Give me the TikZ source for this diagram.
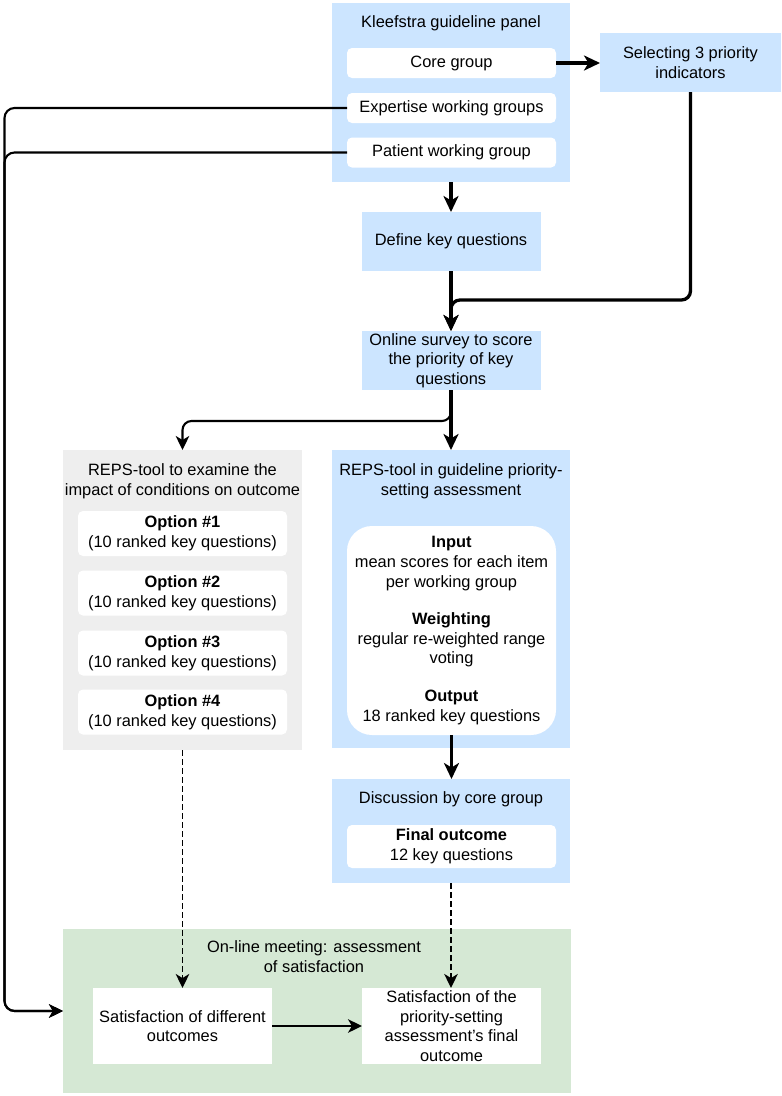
\documentclass[tikz,border=0pt]{standalone}
\usepackage{fontspec}
\setmainfont{Liberation Sans}
\usetikzlibrary{arrows.meta}
\definecolor{bluefill}{HTML}{CCE5FF}
\definecolor{grayfill}{HTML}{EEEEEE}
\definecolor{greenfill}{HTML}{D5E8D4}
\begin{document}
\begin{tikzpicture}[x=1pt,y=-1pt,
  every node/.style={font=\fontsize{16.4}{19.6}\selectfont, inner sep=0pt, outer sep=0pt, align=center},
  bluebox/.style={fill=bluefill, draw=none},
  graybox/.style={fill=grayfill, draw=none},
  greenbox/.style={fill=greenfill, draw=none},
  whitebox/.style={fill=white, draw=none, rounded corners=5pt},
  plainbox/.style={fill=white, draw=none},
  titletext/.style={anchor=north},
  bigtip/.style={-{Stealth[length=16pt,width=15pt,inset=4.5pt]}},
  smalltip/.style={-{Stealth[length=14pt,width=13.5pt,inset=4pt]}},
  thickline/.style={line width=3.3pt, bigtip},
  thinline/.style={line width=2.1pt, smalltip},
  dashline/.style={line width=1.8pt, dash pattern=on 5.5pt off 3.5pt, smalltip},
]
\useasboundingbox (0,0) rectangle (782,1096);
\fill[white] (0,0) rectangle (782,1096);

% Kleefstra panel
\node[bluebox, minimum width=238pt, minimum height=179pt] (panel) at (451,92.5) {};
\node[titletext] (paneltitle) at (451,16) {Kleefstra guideline panel};
\node[whitebox, minimum width=209pt, minimum height=30pt] (core) at (451.5,63) {Core group};
\node[whitebox, minimum width=209pt, minimum height=30pt] (expert) at (451.5,108) {Expertise working groups};
\node[whitebox, minimum width=209pt, minimum height=30pt] (patient) at (451.5,152.5) {Patient working group};

\node[bluebox, minimum width=181pt, minimum height=59pt] (sel) at (690.5,62.5) {Selecting 3 priority\\indicators};

\node[bluebox, minimum width=179pt, minimum height=59pt] (define) at (451,241.5) {Define key questions};
\node[bluebox, minimum width=179pt, minimum height=59pt] (survey) at (451,360.5) {Online survey to score\\the priority of key\\questions};

% gray panel
\node[graybox, minimum width=239pt, minimum height=300pt] (gray) at (182.5,600) {};
\node[titletext] (graytitle) at (182.5,464) {REPS-tool to examine the\\impact of conditions on outcome};
\node[whitebox, minimum width=209pt, minimum height=45pt] (opt1) at (182.5,533.5) {\textbf{Option \#1}\\(10 ranked key questions)};
\node[whitebox, minimum width=209pt, minimum height=45pt] (opt2) at (182.5,593) {\textbf{Option \#2}\\(10 ranked key questions)};
\node[whitebox, minimum width=209pt, minimum height=45pt] (opt3) at (182.5,653) {\textbf{Option \#3}\\(10 ranked key questions)};
\node[whitebox, minimum width=209pt, minimum height=45pt] (opt4) at (182.5,712) {\textbf{Option \#4}\\(10 ranked key questions)};

% REPS blue panel
\node[bluebox, minimum width=238pt, minimum height=298pt] (reps) at (451,599) {};
\node[titletext] (repstitle) at (451,464) {REPS-tool in guideline priority-\\setting assessment};
\node[fill=white, rounded corners=25pt, minimum width=209pt, minimum height=209pt] (repsin) at (451.5,630.5)
  {\textbf{Input}\\mean scores for each item\\per working group\\[18pt]\textbf{Weighting}\\regular re-weighted range\\voting\\[18pt]\textbf{Output}\\18 ranked key questions};

% discussion
\node[bluebox, minimum width=238pt, minimum height=104pt] (disc) at (451,831) {};
\node[titletext] (disctitle) at (451,792) {Discussion by core group};
\node[whitebox, minimum width=209pt, minimum height=43pt] (final) at (451.5,846.5) {\textbf{Final outcome}\\12 key questions};

% green panel
\node[greenbox, minimum width=508pt, minimum height=164pt] (green) at (317,1011) {};
\node[titletext] (greentitle) at (314,941) {On-line meeting: assessment\\of satisfaction};
\node[plainbox, minimum width=179pt, minimum height=76pt] (sat1) at (182.5,1026) {Satisfaction of different\\outcomes};
\node[plainbox, minimum width=179pt, minimum height=76pt] (sat2) at (451.5,1026) {Satisfaction of the\\priority-setting\\assessment's final\\outcome};

% connectors
\coordinate (j1) at (451,300);
\coordinate (j2) at (451,421);
\coordinate (lx) at (4.5,0);

\draw[thickline] (core.east) -- (core.east -| sel.west);
\draw[thickline] (panel.south) -- (panel.south |- define.north);
\draw[thickline] (define.south) -- (survey.north);
\draw[thickline, rounded corners=9pt] (sel.south) |- (j1) -- (survey.north);
\draw[thickline] (survey.south) -- (survey.south |- reps.north);
\draw[thinline, rounded corners=9pt] (survey.south) -- (j2) -| (gray.north);
\draw[thickline] (repsin.south) -- (repsin.south |- disc.north);
\draw[dashline] (gray.south) -- (sat1.north);
\draw[dashline] (disc.south) -- (disc.south |- sat2.north);
\draw[thinline] (sat1.east) -- (sat2.west);
\draw[thinline, rounded corners=10pt] (expert.west) -- (expert.west -| lx) |- (green.west);
\draw[thinline, rounded corners=10pt] (patient.west) -- (patient.west -| lx) |- (green.west);
\end{tikzpicture}
\end{document}
